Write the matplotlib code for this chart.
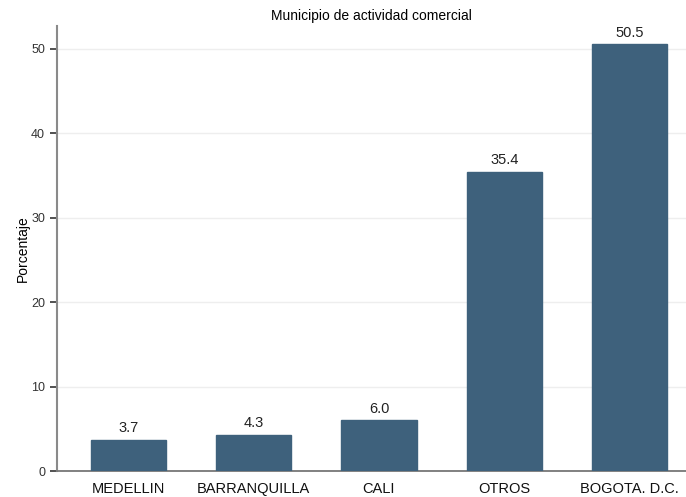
import matplotlib.pyplot as plt

plt.rcParams['font.family'] = ['Liberation Sans', 'DejaVu Sans']

categories = ['MEDELLIN', 'BARRANQUILLA', 'CALI', 'OTROS', 'BOGOTA. D.C.']
values = [3.7, 4.3, 6.0, 35.4, 50.5]
yticks = [0, 10, 20, 30, 40, 50]

fig = plt.figure(figsize=(6.86, 4.97), dpi=100)
ax = fig.add_axes([0.083, 0.052, 0.917, 0.896])

x = range(len(categories))
bars = ax.bar(x, values, width=0.6, color='#3e617c', edgecolor='#3e617c', zorder=3)
for b, v in zip(bars, values):
    ax.text(b.get_x() + b.get_width() / 2, v + 0.55, f'{v:.1f}',
            ha='center', va='bottom', fontsize=10.5, color='#222222')

ax.set_xlim(-0.57, 4.45)
ax.set_ylim(0, 52.7)
ax.set_xticks(list(x))
ax.set_xticklabels(categories, fontsize=10.5, color='#111111')
ax.set_yticks(yticks)
ax.tick_params(axis='y', labelsize=9, colors='#333333', length=5, width=1.2)
ax.tick_params(axis='x', length=0, pad=8)
ax.grid(axis='y', color='#eeeeee', linewidth=1, zorder=0)

for s in ['top', 'right']:
    ax.spines[s].set_visible(False)
ax.spines['left'].set_color('#8a8a8a')
ax.spines['left'].set_linewidth(1.5)
ax.spines['bottom'].set_color('#777777')
ax.spines['bottom'].set_linewidth(1.3)

ax.set_ylabel('Porcentaje', fontsize=10, labelpad=1)
ax.set_title('Municipio de actividad comercial', fontsize=10, pad=4)

fig.savefig('out.png', dpi=100)
